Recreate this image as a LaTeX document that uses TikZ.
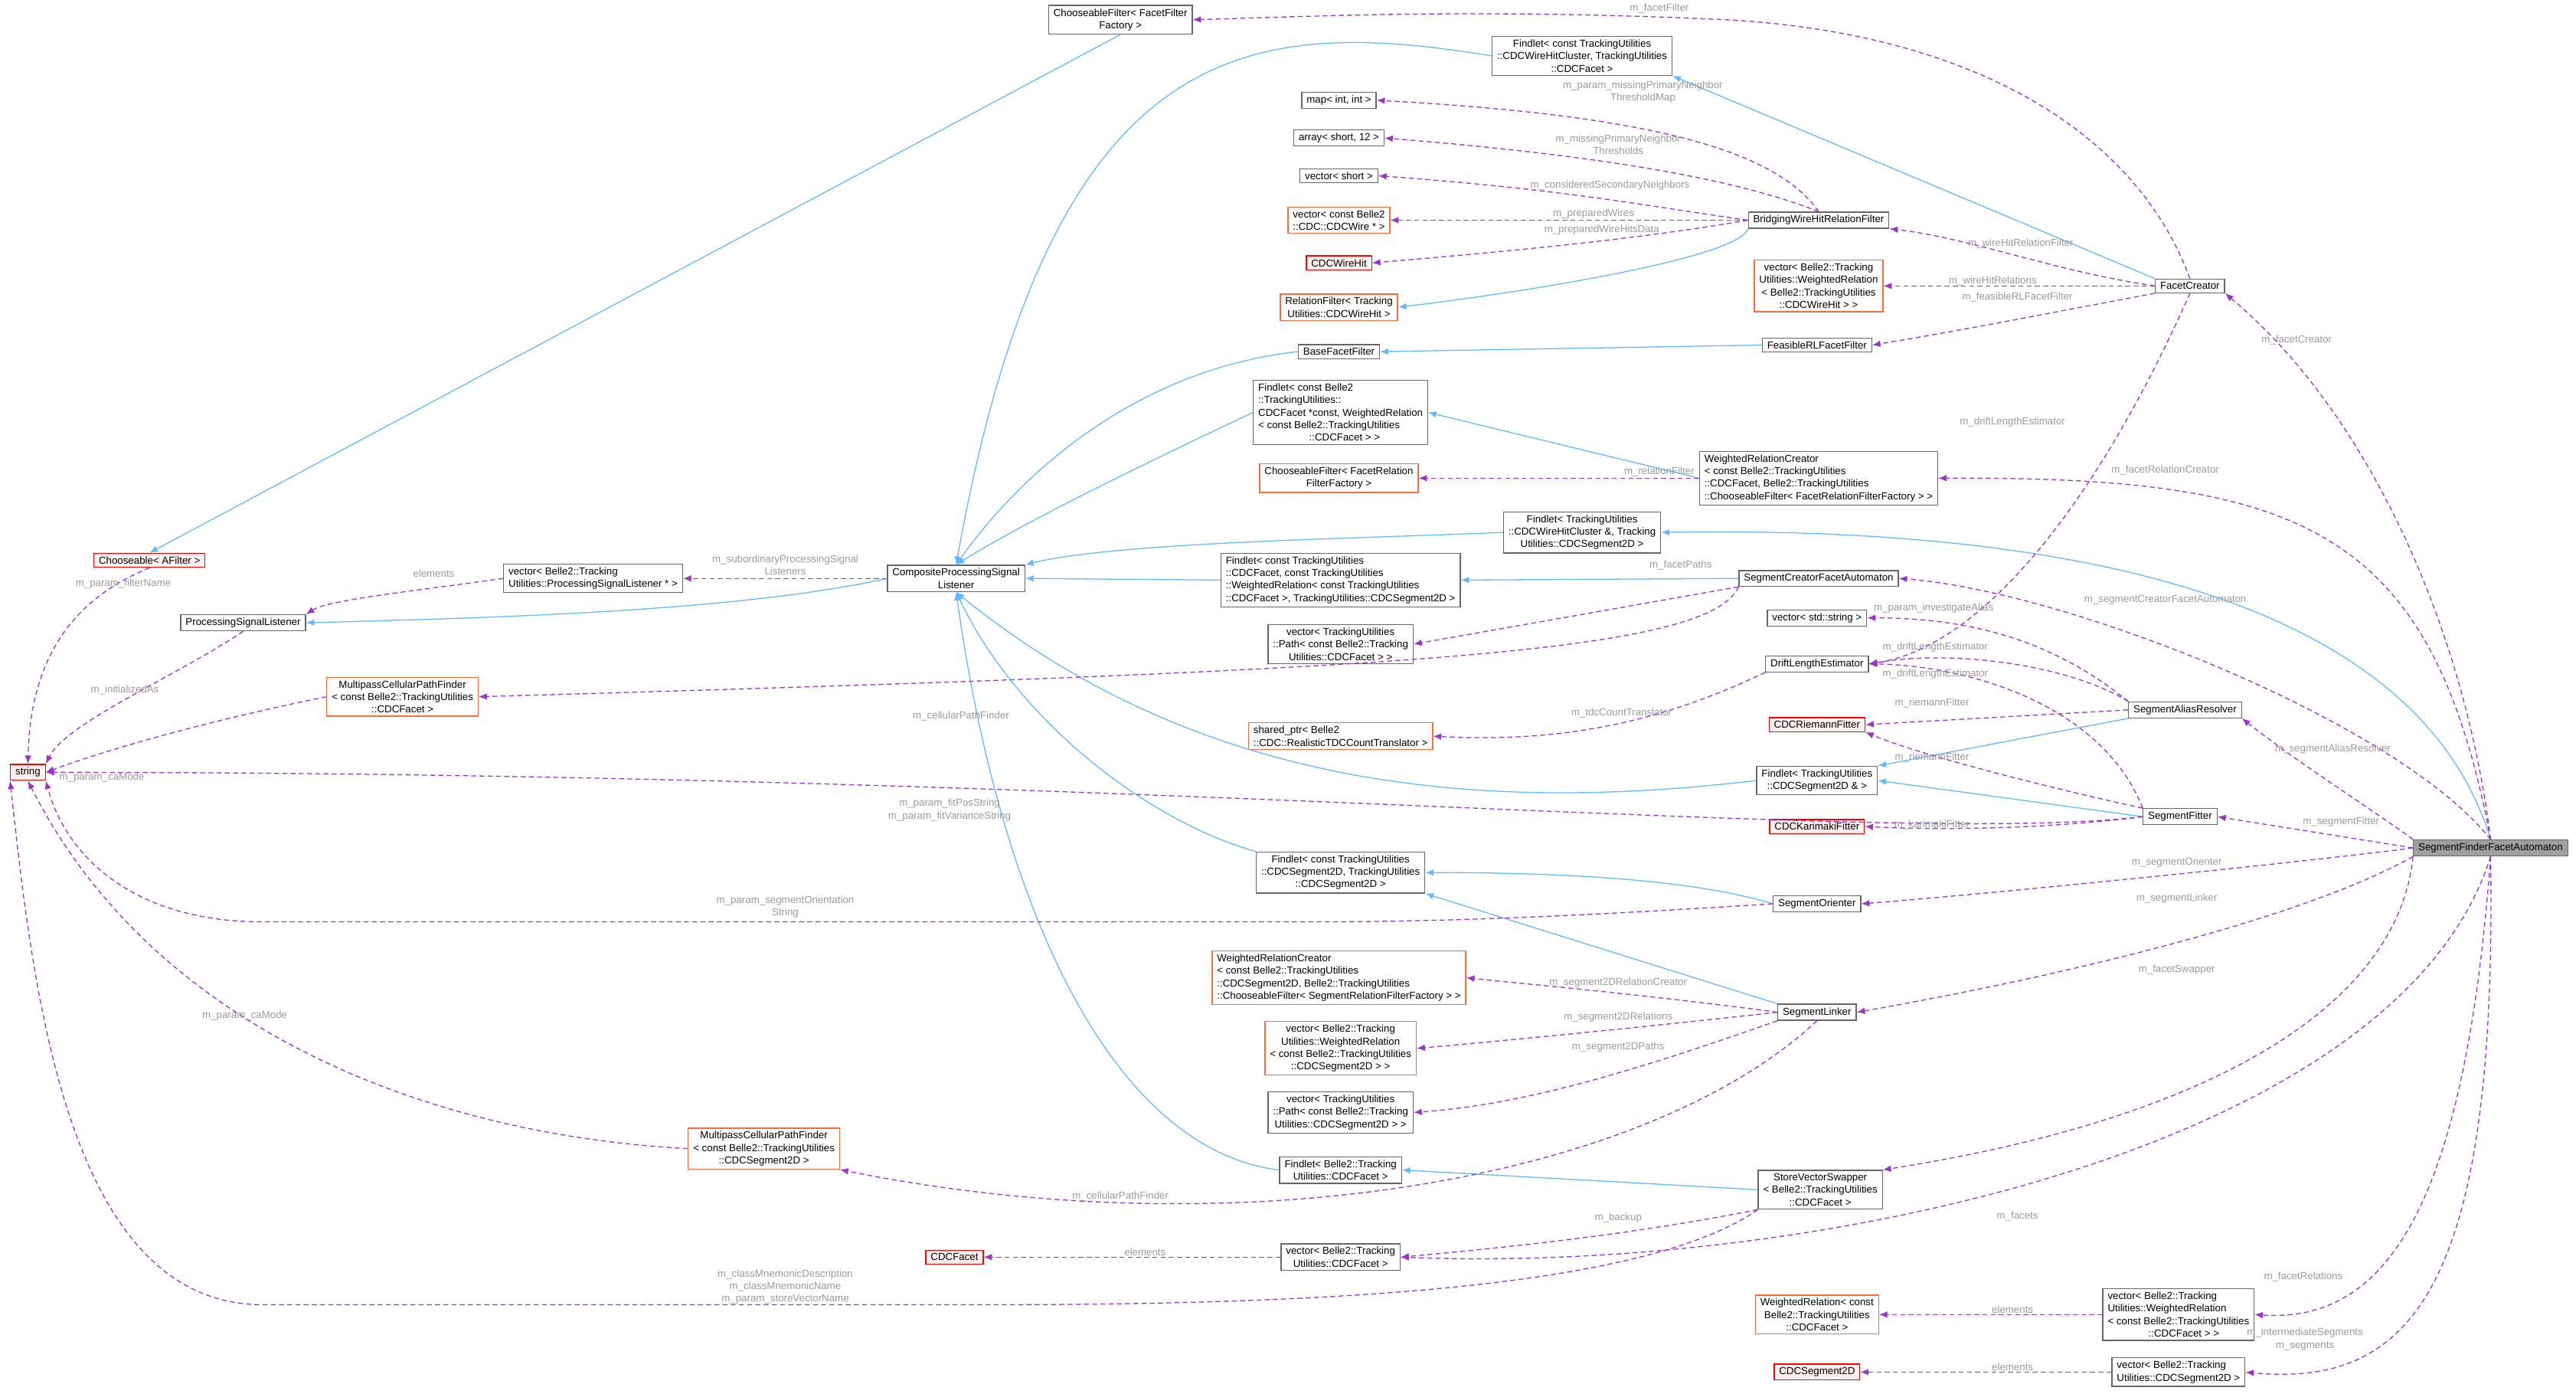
\documentclass[tikz,border=0pt]{standalone}
\usepackage{fontspec}
\setmainfont{Liberation Sans}
\usetikzlibrary{arrows.meta}
\definecolor{inhc}{HTML}{63B8FF}
\definecolor{usec}{HTML}{9A32CD}
\definecolor{labc}{HTML}{9A9A9A}
\definecolor{bord}{HTML}{666666}
\definecolor{orng}{HTML}{FF6A3D}
\definecolor{redf}{HTML}{FFF0F0}
\begin{document}
\begin{tikzpicture}[x=1pt,y=1pt,
  font=\fontsize{6.2}{7.6}\selectfont,
  box/.style={draw=bord,fill=white,inner xsep=3pt,inner ysep=2pt,align=center,line width=0.6pt},
  lbox/.style={box,align=left},
  obox/.style={box,draw=orng},
  olbox/.style={obox,align=left},
  rbox/.style={box,draw=red,fill=redf},
  inh/.style={draw=inhc,line width=0.6pt,-{Latex[length=5pt,width=4pt]}},
  use/.style={draw=usec,line width=0.6pt,dashed,dash pattern=on 3pt off 2pt,-{Latex[length=5pt,width=4pt]}},
  lab/.style={text=labc,align=center,inner sep=0pt}]
\useasboundingbox (0,0) rectangle (1568,-848);
% nodes
\node[box] (cff) at (682,-12) {ChooseableFilter< FacetFilter\\Factory >};
\node[box] (fcl) at (963,-34) {Findlet< const TrackingUtilities\\::CDCWireHitCluster, TrackingUtilities\\::CDCFacet >};
\node[box] (map) at (815,-61) {map< int, int >};
\node[box] (arr) at (815,-84) {array< short, 12 >};
\node[box] (vsh) at (815,-107) {vector< short >};
\node[obox] (vwi) at (815,-134) {vector< const Belle2\\::CDC::CDCWire * >};
\node[rbox] (cwh) at (815,-160) {CDCWireHit};
\node[obox] (rf) at (815,-187) {RelationFilter< Tracking\\Utilities::CDCWireHit >};
\node[box] (bff) at (815,-214) {BaseFacetFilter};
\node[lbox] (fwr) at (816,-251) {Findlet< const Belle2\\::TrackingUtilities::\\CDCFacet *const, WeightedRelation\\< const Belle2::TrackingUtilities\\\hspace*{5em}::CDCFacet > >};
\node[obox] (cffr) at (815,-291) {ChooseableFilter< FacetRelation\\FilterFactory >};
\node[box] (fs2c) at (963,-324) {Findlet< TrackingUtilities\\::CDCWireHitCluster \&, Tracking\\Utilities::CDCSegment2D >};
\node[box] (cpsl) at (582,-352) {CompositeProcessingSignal\\Listener};
\node[lbox] (ffp) at (816,-353) {Findlet< const TrackingUtilities\\::CDCFacet, const TrackingUtilities\\::WeightedRelation< const TrackingUtilities\\::CDCFacet >, TrackingUtilities::CDCSegment2D >};
\node[box] (vpf) at (816,-392) {vector< TrackingUtilities\\::Path< const Belle2::Tracking\\Utilities::CDCFacet > >};
\node[olbox] (sp) at (816,-448) {shared\_ptr< Belle2\\::CDC::RealisticTDCCountTranslator >};
\node[box] (fs2) at (816,-531) {Findlet< const TrackingUtilities\\::CDCSegment2D, TrackingUtilities\\::CDCSegment2D >};
\node[olbox] (wrcs) at (815,-595) {WeightedRelationCreator\\< const Belle2::TrackingUtilities\\::CDCSegment2D, Belle2::TrackingUtilities\\::ChooseableFilter< SegmentRelationFilterFactory > >};
\node[obox] (vwrs) at (816,-638) {vector< Belle2::Tracking\\Utilities::WeightedRelation\\< const Belle2::TrackingUtilities\\::CDCSegment2D > >};
\node[box] (vps) at (816,-677) {vector< TrackingUtilities\\::Path< const Belle2::Tracking\\Utilities::CDCSegment2D > >};
\node[box] (ff) at (816,-712) {Findlet< Belle2::Tracking\\Utilities::CDCFacet >};
\node[box] (vf) at (816,-765) {vector< Belle2::Tracking\\Utilities::CDCFacet >};
\node[rbox] (cdcf) at (581,-765) {CDCFacet};
\node[obox] (mp2) at (465,-699) {MultipassCellularPathFinder\\< const Belle2::TrackingUtilities\\::CDCSegment2D >};
\node[obox] (mp1) at (245,-424) {MultipassCellularPathFinder\\< const Belle2::TrackingUtilities\\::CDCFacet >};
\node[rbox] (str) at (17,-470) {string};
\node[rbox] (caf) at (91,-341) {Chooseable< AFilter >};
\node[box] (psl) at (148,-379) {ProcessingSignalListener};
\node[lbox] (vpsl) at (361,-352) {vector< Belle2::Tracking\\Utilities::ProcessingSignalListener * >};
\node[box] (bw) at (1107,-134) {BridgingWireHitRelationFilter};
\node[obox] (vwrwh) at (1107,-174) {vector< Belle2::Tracking\\Utilities::WeightedRelation\\< Belle2::TrackingUtilities\\::CDCWireHit > >};
\node[box] (frl) at (1106,-210) {FeasibleRLFacetFilter};
\node[lbox] (wrcf) at (1107,-291) {WeightedRelationCreator\\< const Belle2::TrackingUtilities\\::CDCFacet, Belle2::TrackingUtilities\\::ChooseableFilter< FacetRelationFilterFactory > >};
\node[box] (scfa) at (1107,-352) {SegmentCreatorFacetAutomaton};
\node[box] (vstr) at (1106,-376) {vector< std::string >};
\node[box] (dle) at (1106,-404) {DriftLengthEstimator};
\node[rbox] (rie) at (1106,-441) {CDCRiemannFitter};
\node[box] (fs2r) at (1106,-475) {Findlet< TrackingUtilities\\::CDCSegment2D \& >};
\node[rbox] (kar) at (1106,-503) {CDCKarimakiFitter};
\node[box] (so) at (1106,-550) {SegmentOrienter};
\node[box] (sl) at (1106,-616) {SegmentLinker};
\node[box] (svs) at (1108,-724) {StoreVectorSwapper\\< Belle2::TrackingUtilities\\::CDCFacet >};
\node[obox] (wrf) at (1106,-800) {WeightedRelation< const\\Belle2::TrackingUtilities\\::CDCFacet >};
\node[rbox] (cs2d) at (1106,-835) {CDCSegment2D};
\node[box] (fc) at (1333,-174) {FacetCreator};
\node[box] (sar) at (1330,-432) {SegmentAliasResolver};
\node[box] (sf) at (1327,-497) {SegmentFitter};
\node[lbox] (vwrf) at (1326,-800) {vector< Belle2::Tracking\\Utilities::WeightedRelation\\< const Belle2::TrackingUtilities\\\hspace*{4em}::CDCFacet > >};
\node[lbox] (vs2d) at (1326,-835) {vector< Belle2::Tracking\\Utilities::CDCSegment2D >};
\node[box,fill=gray!75] (sffa) at (1516,-516) {SegmentFinderFacetAutomaton};
% inheritance
\draw[inh] (cff.south) -- (caf.north);
\draw[inh] (fcl.west) .. controls (760,-10) and (640,-20) .. (cpsl.north);
\draw[inh] (fc.north west) -- (fcl.south east);
\draw[inh] (bw.south west) .. controls (1060,-155) and (950,-175) .. (rf.east);
\draw[inh] (frl.west) -- (bff.east);
\draw[inh] (bff.west) .. controls (690,-225) and (620,-290) .. (cpsl.north);
\draw[inh] (fwr.west) .. controls (680,-290) and (620,-320) .. (cpsl.north);
\draw[inh] (wrcf.west) -- (fwr.east);
\draw[inh] (fs2c.west) .. controls (820,-328) and (680,-330) .. (cpsl.north east);
\draw[inh] (sffa.north) .. controls (1470,-360) and (1250,-320) .. (fs2c.east);
\draw[inh] (ffp.west) -- (cpsl.east);
\draw[inh] (scfa.west) -- (ffp.east);
\draw[inh] (fs2r.west) .. controls (900,-495) and (730,-480) .. (cpsl.south);
\draw[inh] (sar.south west) -- (fs2r.north east);
\draw[inh] (sf.west) -- (fs2r.east);
\draw[inh] (fs2.north west) .. controls (700,-500) and (620,-440) .. (cpsl.south);
\draw[inh] (so.west) .. controls (1030,-535) and (950,-531) .. (fs2.east);
\draw[inh] (sl.north west) -- (fs2.south east);
\draw[inh] (ff.west) .. controls (680,-700) and (610,-560) .. (cpsl.south);
\draw[inh] (svs.west) -- (ff.east);
\draw[inh] (cpsl.west) .. controls (450,-372) and (300,-376) .. (psl.east);
% usage
\draw[use] (fc.north) .. controls (1300,-80) and (1200,-20) .. (1050,-12) .. controls (900,-5) and (800,-10) .. (cff.east);
\draw[use] (bw.north) .. controls (1080,-90) and (1000,-70) .. (map.east);
\draw[use] (bw.north) .. controls (1060,-110) and (980,-95) .. (arr.east);
\draw[use] (bw.west) .. controls (1000,-125) and (950,-115) .. (vsh.east);
\draw[use] (bw.west) -- (vwi.east);
\draw[use] (bw.west) .. controls (1000,-145) and (930,-152) .. (cwh.east);
\draw[use] (fc.west) .. controls (1250,-165) and (1200,-145) .. (bw.south east);
\draw[use] (fc.west) -- (vwrwh.east);
\draw[use] (fc.south west) .. controls (1250,-190) and (1200,-200) .. (frl.east);
\draw[use] (fc.south) .. controls (1270,-320) and (1200,-395) .. (dle.east);
\draw[use] (sffa.north) .. controls (1500,-380) and (1440,-250) .. (fc.south east);
\draw[use] (wrcf.west) -- (cffr.east);
\draw[use] (sffa.north) .. controls (1480,-320) and (1400,-290) .. (wrcf.east);
\draw[use] (cpsl.west) -- (vpsl.east);
\draw[use] (vpsl.west) .. controls (250,-360) and (200,-365) .. (psl.north east);
\draw[use] (caf.south) .. controls (30,-370) and (18,-420) .. (str.north);
\draw[use] (psl.south) .. controls (110,-410) and (40,-440) .. (str.north east);
\draw[use] (mp1.west) .. controls (120,-440) and (60,-458) .. (str.east);
\draw[use] (scfa.south west) .. controls (1040,-398) and (850,-408) .. (mp1.east);
\draw[use] (scfa.south west) -- (vpf.east);
\draw[use] (sffa.north) .. controls (1460,-440) and (1260,-360) .. (scfa.east);
\draw[use] (sar.north west) .. controls (1250,-390) and (1200,-376) .. (vstr.east);
\draw[use] (sar.north west) .. controls (1260,-405) and (1190,-395) .. (dle.east);
\draw[use] (sf.north west) .. controls (1280,-430) and (1200,-405) .. (dle.east);
\draw[use] (dle.south west) .. controls (1010,-440) and (950,-452) .. (sp.east);
\draw[use] (sar.west) -- (rie.east);
\draw[use] (sf.north west) .. controls (1250,-480) and (1170,-460) .. (rie.south east);
\draw[use] (sffa.north west) .. controls (1440,-490) and (1400,-465) .. (sar.south east);
\draw[use] (sf.west) .. controls (1240,-505) and (1180,-505) .. (kar.east);
\draw[use] (sf.west) .. controls (1150,-515) and (700,-470) .. (str.east);
\draw[use] (sffa.west) -- (sf.east);
\draw[use] (so.west) .. controls (1000,-555) and (900,-561) .. (800,-561) -- (160,-561) .. controls (80,-561) and (40,-520) .. (str.south east);
\draw[use] (sffa.west) .. controls (1400,-525) and (1200,-545) .. (so.east);
\draw[use] (sl.west) .. controls (1000,-605) and (920,-598) .. (wrcs.east);
\draw[use] (sl.west) .. controls (1000,-625) and (930,-632) .. (vwrs.east);
\draw[use] (sl.south west) .. controls (1000,-650) and (930,-672) .. (vps.east);
\draw[use] (sl.south) .. controls (1000,-720) and (750,-760) .. (mp2.south east);
\draw[use] (mp2.west) .. controls (250,-690) and (90,-620) .. (str.south);
\draw[use] (sffa.south west) .. controls (1400,-560) and (1250,-595) .. (sl.east);
\draw[use] (svs.south west) .. controls (1000,-750) and (930,-758) .. (vf.east);
\draw[use] (svs.south west) .. controls (1000,-785) and (800,-794) .. (600,-794) -- (160,-794) .. controls (40,-794) and (20,-600) .. (str.south west);
\draw[use] (sffa.south west) .. controls (1460,-610) and (1350,-680) .. (svs.north east);
\draw[use] (sffa.south) .. controls (1460,-700) and (1100,-775) .. (vf.east);
\draw[use] (vf.west) -- (cdcf.east);
\draw[use] (vwrf.west) -- (wrf.east);
\draw[use] (sffa.south) .. controls (1500,-740) and (1450,-805) .. (vwrf.east);
\draw[use] (vs2d.west) -- (cs2d.east);
\draw[use] (sffa.south) .. controls (1520,-780) and (1470,-845) .. (vs2d.east);
% labels
\node[lab] (l1) at (1010,-5) {m\_facetFilter};
\node[lab] (l2) at (1000,-56) {m\_param\_missingPrimaryNeighbor\\ThresholdMap};
\node[lab] (l3) at (985,-88) {m\_missingPrimaryNeighbor\\Thresholds};
\node[lab] (l4) at (980,-113) {m\_consideredSecondaryNeighbors};
\node[lab] (l5) at (970,-130) {m\_preparedWires};
\node[lab] (l6) at (975,-140) {m\_preparedWireHitsData};
\node[lab] (l7) at (1230,-148) {m\_wireHitRelationFilter};
\node[lab] (l8) at (1213,-171) {m\_wireHitRelations};
\node[lab] (l9) at (1228,-181) {m\_feasibleRLFacetFilter};
\node[lab] (l10) at (1225,-257) {m\_driftLengthEstimator};
\node[lab] (l11) at (1398,-207) {m\_facetCreator};
\node[lab] (l12) at (1010,-287) {m\_relationFilter};
\node[lab] (l13) at (1318,-286) {m\_facetRelationCreator};
\node[lab] (l14) at (478,-344) {m\_subordinaryProcessingSignal\\Listeners};
\node[lab] (l15) at (264,-349) {elements};
\node[lab] (l16) at (75,-355) {m\_param\_filterName};
\node[lab] (l17) at (76,-420) {m\_initializedAs};
\node[lab] (l18) at (62,-473) {m\_param\_caMode};
\node[lab] (l19) at (585,-436) {m\_cellularPathFinder};
\node[lab] (l20) at (1023,-344) {m\_facetPaths};
\node[lab] (l21) at (1318,-365) {m\_segmentCreatorFacetAutomaton};
\node[lab] (l22) at (1177,-370) {m\_param\_investigateAlias};
\node[lab] (l23) at (1178,-394) {m\_driftLengthEstimator};
\node[lab] (l24) at (1178,-410) {m\_driftLengthEstimator};
\node[lab] (l25) at (987,-434) {m\_tdcCountTranslator};
\node[lab] (l26) at (1176,-428) {m\_riemannFitter};
\node[lab] (l27) at (1176,-461) {m\_riemannFitter};
\node[lab] (l28) at (1420,-456) {m\_segmentAliasResolver};
\node[lab] (l29) at (1176,-502) {m\_karimakiFitter};
\node[lab] (l30) at (578,-493) {m\_param\_fitPosString\\m\_param\_fitVarianceString};
\node[lab] (l31) at (1425,-500) {m\_segmentFitter};
\node[lab] (l32) at (478,-552) {m\_param\_segmentOrientation\\String};
\node[lab] (l33) at (1325,-525) {m\_segmentOrienter};
\node[lab] (l34) at (1325,-547) {m\_segmentLinker};
\node[lab] (l35) at (985,-598) {m\_segment2DRelationCreator};
\node[lab] (l36) at (985,-619) {m\_segment2DRelations};
\node[lab] (l37) at (985,-637) {m\_segment2DPaths};
\node[lab] (l38) at (149,-618) {m\_param\_caMode};
\node[lab] (l39) at (682,-728) {m\_cellularPathFinder};
\node[lab] (l40) at (985,-741) {m\_backup};
\node[lab] (l41) at (478,-783) {m\_classMnemonicDescription\\m\_classMnemonicName\\m\_param\_storeVectorName};
\node[lab] (l42) at (1325,-590) {m\_facetSwapper};
\node[lab] (l43) at (1228,-740) {m\_facets};
\node[lab] (l44) at (697,-762) {elements};
\node[lab] (l45) at (1225,-797) {elements};
\node[lab] (l46) at (1402,-777) {m\_facetRelations};
\node[lab] (l47) at (1225,-832) {elements};
\node[lab] (l48) at (1403,-815) {m\_intermediateSegments\\m\_segments};
\end{tikzpicture}
\end{document}
